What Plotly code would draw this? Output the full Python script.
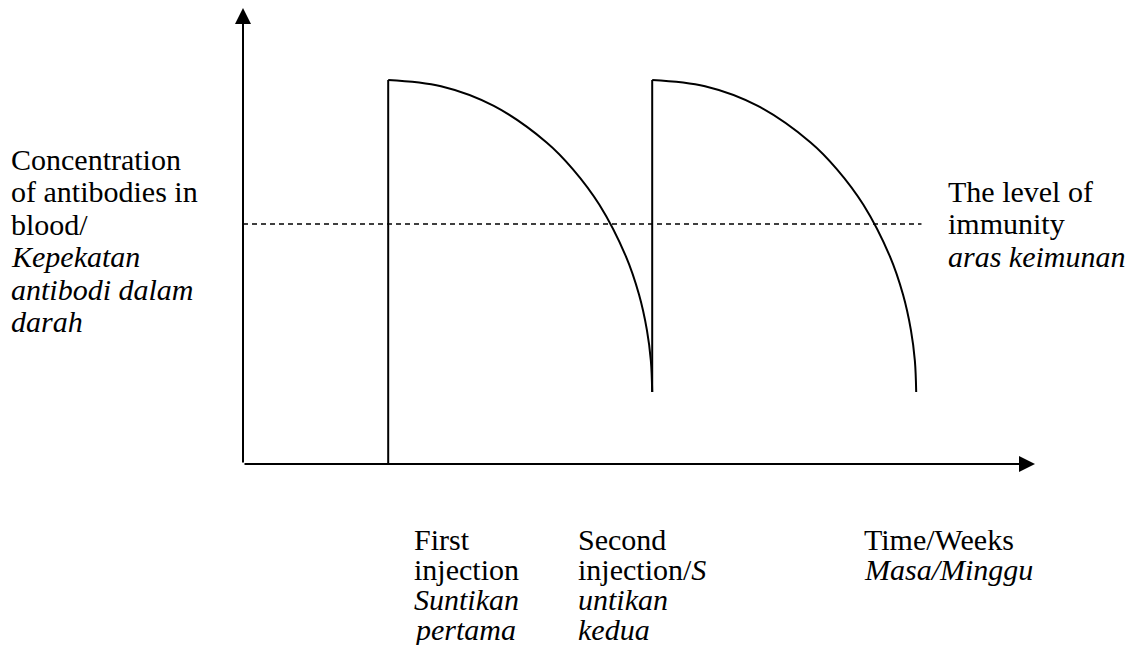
import plotly.graph_objects as go

# ---- data (time in arbitrary week units, concentration in arbitrary units) ----
first_injection_time = [5.5, 5.5]
first_injection_conc = [0.0, 8.0]
curve1_time = [5.5, 7.5, 9.5, 11.5, 12.5, 13.5, 14.5, 15.0, 15.3, 15.45, 15.5]
curve1_conc = [8.0, 7.87, 7.46, 6.7, 6.14, 5.4, 4.33, 3.53, 2.79, 2.15, 1.5]
second_injection_time = [15.5, 15.5]
second_injection_conc = [1.5, 8.0]
curve2_time = [15.5, 17.5, 19.5, 21.5, 22.5, 23.5, 24.5, 25.0, 25.3, 25.45, 25.5]
curve2_conc = [8.0, 7.87, 7.46, 6.7, 6.14, 5.4, 4.33, 3.53, 2.79, 2.15, 1.5]
immunity_time = [0.0, 25.7]
immunity_level = [5.0, 5.0]

y_label_lines = ["Concentration", "of antibodies in", "blood/",
                 "<i>Kepekatan</i>", "<i>antibodi dalam</i>", "<i>darah</i>"]
immunity_label_lines = ["The level of", "immunity", "<i>aras keimunan</i>"]
first_label_lines = ["First", "injection", "<i>Suntikan</i>", "<i>pertama</i>"]
second_label_lines = ["Second", "injection/<i>S</i>", "<i>untikan</i>", "<i>kedua</i>"]
time_label_lines = ["Time/Weeks", "<i>Masa/Minggu</i>"]

X_MAX, Y_MAX = 30.0, 9.5
OFF = 8  # page body margin of the html page
W, H = 1145 - OFF, 645 - OFF
ML, MR, MT, MB = 243 - OFF, 110, 8 - OFF, 181
PW, PH = W - ML - MR, H - MT - MB

def px_to_paper_x(px):
    return (px - OFF - ML) / PW

def py_to_paper_y(py):
    return (H - MB - (py - OFF)) / PH

FONT = dict(family="Liberation Serif, Times New Roman, serif", size=30, color="black")
LINE = dict(color="black", width=2)

fig = go.Figure()
fig.add_trace(go.Scatter(x=first_injection_time, y=first_injection_conc, mode="lines",
                         line=LINE, cliponaxis=False, showlegend=False))
fig.add_trace(go.Scatter(x=curve1_time, y=curve1_conc, mode="lines",
                         line=dict(LINE, shape="spline", smoothing=1.0),
                         cliponaxis=False, showlegend=False))
fig.add_trace(go.Scatter(x=second_injection_time, y=second_injection_conc, mode="lines",
                         line=LINE, cliponaxis=False, showlegend=False))
fig.add_trace(go.Scatter(x=curve2_time, y=curve2_conc, mode="lines",
                         line=dict(LINE, shape="spline", smoothing=1.0),
                         cliponaxis=False, showlegend=False))
fig.add_trace(go.Scatter(x=immunity_time, y=immunity_level, mode="lines",
                         line=dict(color="black", width=1.3, dash="5px,4px"),
                         cliponaxis=False, showlegend=False))

annotations = []
# axes with arrowheads
annotations.append(dict(x=X_MAX, y=0, ax=0, ay=0, xref="x", yref="y", axref="x", ayref="y",
                        showarrow=True, arrowhead=2, arrowsize=1.6, arrowwidth=2,
                        arrowcolor="black", text=""))
annotations.append(dict(x=0, y=Y_MAX, ax=0, ay=0, xref="x", yref="y", axref="x", ayref="y",
                        showarrow=True, arrowhead=2, arrowsize=1.6, arrowwidth=2,
                        arrowcolor="black", text=""))

def add_block(lines, left_px, first_center_py, spacing):
    for i, t in enumerate(lines):
        annotations.append(dict(x=px_to_paper_x(left_px),
                                y=py_to_paper_y(first_center_py + i * spacing),
                                xref="paper", yref="paper", text=t, showarrow=False,
                                xanchor="left", yanchor="middle", font=FONT))

add_block(y_label_lines, 9, 159, 32.5)
add_block(immunity_label_lines, 946, 191, 32.5)
add_block(first_label_lines, 412, 539, 30)
add_block(second_label_lines, 576, 539, 30)
add_block(time_label_lines, 862, 539, 30)

fig.update_layout(
    width=W, height=H,
    margin=dict(l=ML, r=MR, t=MT, b=MB, autoexpand=False),
    paper_bgcolor="white", plot_bgcolor="white",
    xaxis=dict(range=[0, X_MAX], visible=False, fixedrange=True),
    yaxis=dict(range=[0, Y_MAX], visible=False, fixedrange=True),
    annotations=annotations,
    showlegend=False,
)
fig.write_html("out.html")
